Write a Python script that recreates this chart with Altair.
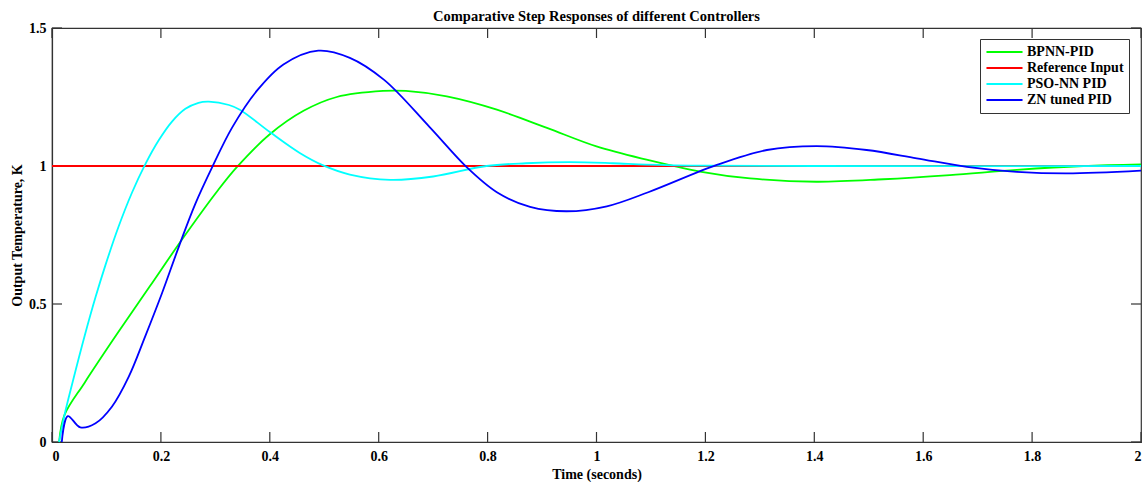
import altair as alt
import pandas as pd

# Step responses (time in seconds, output temperature in K)
bpnn_t = [0.013, 0.023, 0.060, 0.119, 0.180, 0.241, 0.302, 0.339, 0.400, 0.462, 0.523,
          0.608, 0.650, 0.725, 0.817, 0.909, 1.000, 1.092, 1.190, 1.282, 1.404, 1.527,
          1.649, 1.772, 1.894, 2.000]
bpnn_v = [0.000, 0.098, 0.215, 0.390, 0.565, 0.740, 0.905, 0.995, 1.115, 1.200, 1.250,
          1.272, 1.272, 1.252, 1.204, 1.138, 1.071, 1.023, 0.980, 0.955, 0.943, 0.952,
          0.967, 0.986, 1.000, 1.006]

ref_t = [0.0, 2.0]
ref_v = [1.0, 1.0]

pso_t = [0.013, 0.023, 0.037, 0.061, 0.080, 0.098, 0.122, 0.147, 0.171, 0.196, 0.220,
         0.245, 0.269, 0.288, 0.325, 0.345, 0.400, 0.455, 0.498, 0.547, 0.621, 0.700,
         0.798, 0.870, 0.951, 1.030, 1.092, 1.200, 1.400, 2.000]
pso_v = [0.000, 0.098, 0.210, 0.392, 0.525, 0.640, 0.779, 0.904, 1.005, 1.093, 1.160,
         1.207, 1.229, 1.233, 1.221, 1.204, 1.123, 1.047, 1.002, 0.969, 0.950, 0.962,
         1.000, 1.010, 1.014, 1.010, 1.005, 1.001, 1.000, 1.000]

zn_t = [0.018, 0.029, 0.052, 0.080, 0.110, 0.141, 0.171, 0.202, 0.233, 0.263, 0.294,
        0.331, 0.376, 0.425, 0.489, 0.547, 0.610, 0.694, 0.762, 0.817, 0.878, 0.945,
        1.019, 1.095, 1.221, 1.313, 1.404, 1.496, 1.588, 1.680, 1.772, 1.864, 2.000]
zn_v = [0.000, 0.094, 0.053, 0.068, 0.128, 0.237, 0.382, 0.539, 0.708, 0.862, 0.995,
        1.140, 1.272, 1.368, 1.418, 1.392, 1.312, 1.140, 0.995, 0.905, 0.852, 0.836,
        0.854, 0.905, 1.004, 1.058, 1.072, 1.058, 1.028, 0.997, 0.979, 0.973, 0.983]

series_names = ["BPNN-PID", "Reference Input", "PSO-NN PID", "ZN tuned PID"]
series_colors = ["#00ff00", "#ff0000", "#00ffff", "#0000ff"]

x_ticks = [0, 0.2, 0.4, 0.6, 0.8, 1, 1.2, 1.4, 1.6, 1.8, 2]
y_ticks = [0, 0.5, 1, 1.5]

frames = []
for name, ts, vs in zip(series_names, [bpnn_t, ref_t, pso_t, zn_t],
                        [bpnn_v, ref_v, pso_v, zn_v]):
    frames.append(pd.DataFrame({"t": ts, "v": vs, "series": name,
                                "order": range(len(ts))}))
df = pd.concat(frames, ignore_index=True)

W, H = 1089, 414
FONT = "Liberation Serif"
AXIS_COLOR = "#333333"
TICK_LEN = 10

axis_text = dict(labelFont=FONT, labelFontWeight="bold", labelFontSize=14,
                 labelColor="#000000", titleFont=FONT, titleFontWeight="bold",
                 titleFontSize=14, titleColor="#000000", domainColor=AXIS_COLOR,
                 domainWidth=1.2, ticks=False, grid=False, format="~g")

x_scale = alt.Scale(domain=[0, 2], nice=False, zero=False)
y_scale = alt.Scale(domain=[0, 1.5], nice=False, zero=False)

lines = alt.Chart(df).mark_line(strokeWidth=1.8, interpolate="catmull-rom").encode(
    x=alt.X("t:Q", scale=x_scale,
            axis=alt.Axis(title="Time (seconds)", values=x_ticks, labelPadding=7,
                          titlePadding=4, **axis_text)),
    y=alt.Y("v:Q", scale=y_scale,
            axis=alt.Axis(title="Output Temperature, K", values=y_ticks,
                          labelPadding=6, titlePadding=4, **axis_text)),
    color=alt.Color("series:N",
                    scale=alt.Scale(domain=series_names, range=series_colors),
                    legend=alt.Legend(title=None, orient="none", legendX=928,
                                      legendY=11, symbolType="stroke",
                                      symbolSize=1300, symbolStrokeWidth=2,
                                      clipHeight=16, rowPadding=0,
                                      labelFont=FONT, labelFontWeight="bold",
                                      labelFontSize=14, labelColor="#000000",
                                      padding=5, labelOffset=3,
                                      strokeColor=AXIS_COLOR, fillColor="white")),
    order="order:Q",
)

# Inward tick marks on all four sides of the box
xt = pd.DataFrame({"t": x_ticks})
yt = pd.DataFrame({"v": y_ticks})
tick_style = dict(color=AXIS_COLOR, strokeWidth=1.2)
x_bottom = alt.Chart(xt).mark_rule(**tick_style).encode(
    x=alt.X("t:Q", scale=x_scale), y=alt.value(H - TICK_LEN), y2=alt.value(H))
x_top = alt.Chart(xt).mark_rule(**tick_style).encode(
    x=alt.X("t:Q", scale=x_scale), y=alt.value(0), y2=alt.value(TICK_LEN))
y_left = alt.Chart(yt).mark_rule(**tick_style).encode(
    y=alt.Y("v:Q", scale=y_scale), x=alt.value(0), x2=alt.value(TICK_LEN))
y_right = alt.Chart(yt).mark_rule(**tick_style).encode(
    y=alt.Y("v:Q", scale=y_scale), x=alt.value(W - TICK_LEN), x2=alt.value(W))

chart = alt.layer(x_bottom, x_top, y_left, y_right, lines).properties(
    width=W, height=H,
    background="white",
    title=alt.TitleParams("Comparative Step Responses of different Controllers",
                          font=FONT, fontSize=14.5, fontWeight="bold",
                          color="#000000", anchor="middle", offset=4, dy=7),
    autosize=alt.AutoSizeParams(type="none"),
    padding={"left": 52, "top": 28, "right": 4, "bottom": 40},
).configure_view(
    stroke=AXIS_COLOR, strokeWidth=1.2
)

chart.save("out.html", embed_options={"renderer": "svg", "actions": False})
